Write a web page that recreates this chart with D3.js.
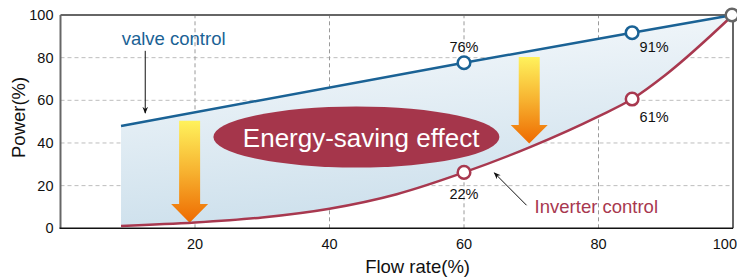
<!DOCTYPE html>
<html lang="en">
<head>
<meta charset="utf-8">
<script src="https://d3js.org/d3.v7.min.js"></script>
<style>
  body { margin: 0; background: #fff; }
  text { font-family: "Liberation Sans", Arial, sans-serif; }
</style>
</head>
<body>
<div id="chart"></div>
<script>
// chart values
const flowTicks = [20, 40, 60, 80, 100];
const powerTicks = [0, 20, 40, 60, 80, 100];

const valveFlow = [9, 60, 85, 100];
const valvePower = [48, 77.6, 91.7, 100];

const inverterFlow = [9, 20, 30, 40, 50, 60, 70, 80, 85, 90, 100];
const inverterPower = [1.1, 2.7, 5.1, 9.2, 16, 26.2, 38.3, 52.5, 60.6, 72, 100];

const valveMarkFlow = [60, 85];
const valveMarkPower = [77.6, 91.7];
const valveMarkText = ["76%", "91%"];
const inverterMarkFlow = [60, 85];
const inverterMarkPower = [26.2, 60.6];
const inverterMarkText = ["22%", "61%"];

const width = 737, height = 280;
const margin = { top: 15, right: 4, bottom: 52, left: 61 };

const svg = d3.select("#chart").append("svg")
  .attr("width", width).attr("height", height);

const x = d3.scaleLinear().domain([0, 100]).range([margin.left - 0.5, width - margin.right]);
const y = d3.scaleLinear().domain([0, 100]).range([height - margin.bottom + 0.3, margin.top]);

const defs = svg.append("defs");
const fillGrad = defs.append("linearGradient").attr("id", "fillGrad")
  .attr("x1", 0).attr("y1", 0).attr("x2", 0.25).attr("y2", 1);
fillGrad.append("stop").attr("offset", "0%").attr("stop-color", "#f9fbfd");
fillGrad.append("stop").attr("offset", "100%").attr("stop-color", "#cde0ec");

const arrowGrad = defs.append("linearGradient").attr("id", "arrowGrad")
  .attr("x1", 0).attr("y1", 0).attr("x2", 0).attr("y2", 1);
arrowGrad.append("stop").attr("offset", "0%").attr("stop-color", "#fff25c");
arrowGrad.append("stop").attr("offset", "50%").attr("stop-color", "#f7b230");
arrowGrad.append("stop").attr("offset", "100%").attr("stop-color", "#ee6a00");

defs.append("marker").attr("id", "tip")
  .attr("viewBox", "0 0 10 10").attr("refX", 9).attr("refY", 5)
  .attr("markerWidth", 7).attr("markerHeight", 7).attr("orient", "auto-start-reverse")
  .append("path").attr("d", "M0,1 L10,5 L0,9 L3,5 Z").attr("fill", "#111");

// grid
svg.append("g").selectAll("line").data(powerTicks.filter(d => d > 0 && d < 100))
  .join("line")
  .attr("x1", x(0)).attr("x2", x(100))
  .attr("y1", d => y(d)).attr("y2", d => y(d))
  .attr("stroke", "#bdbdbd").attr("stroke-dasharray", "4,3");
svg.append("g").selectAll("line").data(flowTicks.filter(d => d < 100))
  .join("line")
  .attr("x1", d => x(d)).attr("x2", d => x(d))
  .attr("y1", y(0)).attr("y2", y(100))
  .attr("stroke", "#9a9a9a").attr("stroke-dasharray", "4,3");

// area between the two curves
const valvePts = valveFlow.map((f, i) => [f, valvePower[i]]);
const invPts = inverterFlow.map((f, i) => [f, inverterPower[i]]);
const valveAt = f => {
  for (let i = 1; i < valveFlow.length; i++) {
    if (f <= valveFlow[i]) {
      const t = (f - valveFlow[i - 1]) / (valveFlow[i] - valveFlow[i - 1]);
      return valvePower[i - 1] + t * (valvePower[i] - valvePower[i - 1]);
    }
  }
  return valvePower[valvePower.length - 1];
};
svg.append("path")
  .datum(invPts)
  .attr("d", d3.area().curve(d3.curveMonotoneX)
    .x(d => x(d[0])).y0(d => y(d[1])).y1(d => y(valveAt(d[0]))))
  .attr("fill", "url(#fillGrad)");

// axes frame
svg.append("line").attr("x1", x(0)).attr("x2", x(100)).attr("y1", y(100)).attr("y2", y(100))
  .attr("stroke", "#666").attr("stroke-width", 2);
svg.append("line").attr("x1", x(100)).attr("x2", x(100)).attr("y1", y(100)).attr("y2", y(0))
  .attr("stroke", "#666").attr("stroke-width", 2);
svg.append("line").attr("x1", x(0)).attr("x2", x(0)).attr("y1", y(100)).attr("y2", y(0))
  .attr("stroke", "#666").attr("stroke-width", 2);
svg.append("line").attr("x1", x(0) - 1).attr("x2", x(100)).attr("y1", y(0)).attr("y2", y(0))
  .attr("stroke", "#111").attr("stroke-width", 1.6);

// tick labels
svg.append("g").selectAll("text").data(powerTicks).join("text")
  .attr("x", x(0) - 7).attr("y", d => y(d) + 5)
  .attr("text-anchor", "end").attr("font-size", 14.5).attr("fill", "#111")
  .text(d => d);
svg.append("g").selectAll("text").data(flowTicks).join("text")
  .attr("x", d => d === 100 ? width : x(d)).attr("y", y(0) + 21)
  .attr("text-anchor", d => d === 100 ? "end" : "middle")
  .attr("font-size", 14.5).attr("fill", "#111")
  .text(d => d);

svg.append("text").attr("x", x(53.1)).attr("y", height - 7)
  .attr("text-anchor", "middle").attr("font-size", 18.5).attr("fill", "#111")
  .text("Flow rate(%)");
svg.append("text").attr("transform", `translate(25,${y(52)}) rotate(-90)`)
  .attr("text-anchor", "middle").attr("font-size", 18.5).attr("fill", "#111")
  .text("Power(%)");

// orange arrows
const arrows = [
  { flow: 19.2, top: 50.4, neck: 11.4, tip: 2.6 },
  { flow: 69.7, top: 80.3, neck: 48.4, tip: 39.8 }
];
svg.append("g").selectAll("path").data(arrows).join("path")
  .attr("d", a => {
    const cx = x(a.flow), sw = 10.5, hw = 18.5;
    return `M${cx - sw},${y(a.top)} L${cx + sw},${y(a.top)} L${cx + sw},${y(a.neck)} ` +
      `L${cx + hw},${y(a.neck)} L${cx},${y(a.tip)} L${cx - hw},${y(a.neck)} L${cx - sw},${y(a.neck)} Z`;
  })
  .attr("fill", "url(#arrowGrad)");

// lines
svg.append("path").datum(valvePts)
  .attr("d", d3.line().x(d => x(d[0])).y(d => y(d[1])))
  .attr("fill", "none").attr("stroke", "#1a6295").attr("stroke-width", 2.5);
svg.append("path").datum(invPts)
  .attr("d", d3.line().curve(d3.curveMonotoneX).x(d => x(d[0])).y(d => y(d[1])))
  .attr("fill", "none").attr("stroke", "#a8384f").attr("stroke-width", 2.5);

// ellipse label
svg.append("ellipse")
  .attr("cx", x(44)).attr("cy", y(42.8)).attr("rx", 143).attr("ry", 30.5)
  .attr("fill", "#a5364b");
svg.append("text").attr("x", x(44.7)).attr("y", y(42.8) + 9.5)
  .attr("text-anchor", "middle").attr("font-size", 26).attr("fill", "#fff")
  .text("Energy-saving effect");

// markers
svg.append("g").selectAll("circle").data(valveMarkFlow).join("circle")
  .attr("cx", d => x(d)).attr("cy", (d, i) => y(valveMarkPower[i])).attr("r", 6.3)
  .attr("fill", "#fff").attr("stroke", "#1a6295").attr("stroke-width", 2.5);
svg.append("g").selectAll("circle").data(inverterMarkFlow).join("circle")
  .attr("cx", d => x(d)).attr("cy", (d, i) => y(inverterMarkPower[i])).attr("r", 6.3)
  .attr("fill", "#fff").attr("stroke", "#a8384f").attr("stroke-width", 2.5);
svg.append("circle").attr("cx", x(100) - 1).attr("cy", y(100)).attr("r", 6.3)
  .attr("fill", "#fff").attr("stroke", "#666").attr("stroke-width", 2.5);

// value labels
svg.append("text").attr("x", x(valveMarkFlow[0])).attr("y", y(valveMarkPower[0]) - 11)
  .attr("text-anchor", "middle").attr("font-size", 14.5).attr("fill", "#111").text(valveMarkText[0]);
svg.append("text").attr("x", x(valveMarkFlow[1]) + 22).attr("y", y(valveMarkPower[1]) + 19)
  .attr("text-anchor", "middle").attr("font-size", 14.5).attr("fill", "#111").text(valveMarkText[1]);
svg.append("text").attr("x", x(inverterMarkFlow[0])).attr("y", y(inverterMarkPower[0]) + 27)
  .attr("text-anchor", "middle").attr("font-size", 14.5).attr("fill", "#111").text(inverterMarkText[0]);
svg.append("text").attr("x", x(inverterMarkFlow[1]) + 22).attr("y", y(inverterMarkPower[1]) + 23)
  .attr("text-anchor", "middle").attr("font-size", 14.5).attr("fill", "#111").text(inverterMarkText[1]);

// series notes
svg.append("text").attr("x", x(9.1)).attr("y", 44.5)
  .attr("font-size", 18.5).attr("fill", "#1a6295").text("valve control");
svg.append("line").attr("x1", x(12.6)).attr("x2", x(12.6)).attr("y1", y(83.2)).attr("y2", y(54))
  .attr("stroke", "#111").attr("stroke-width", 1).attr("marker-end", "url(#tip)");
svg.append("text").attr("x", x(70.5)).attr("y", y(7.3))
  .attr("font-size", 18.5).attr("fill", "#a8384f").text("Inverter control");
svg.append("line").attr("x1", x(69.3)).attr("x2", x(64.5)).attr("y1", y(10.8)).attr("y2", y(26))
  .attr("stroke", "#111").attr("stroke-width", 1).attr("marker-end", "url(#tip)");
</script>
</body>
</html>
